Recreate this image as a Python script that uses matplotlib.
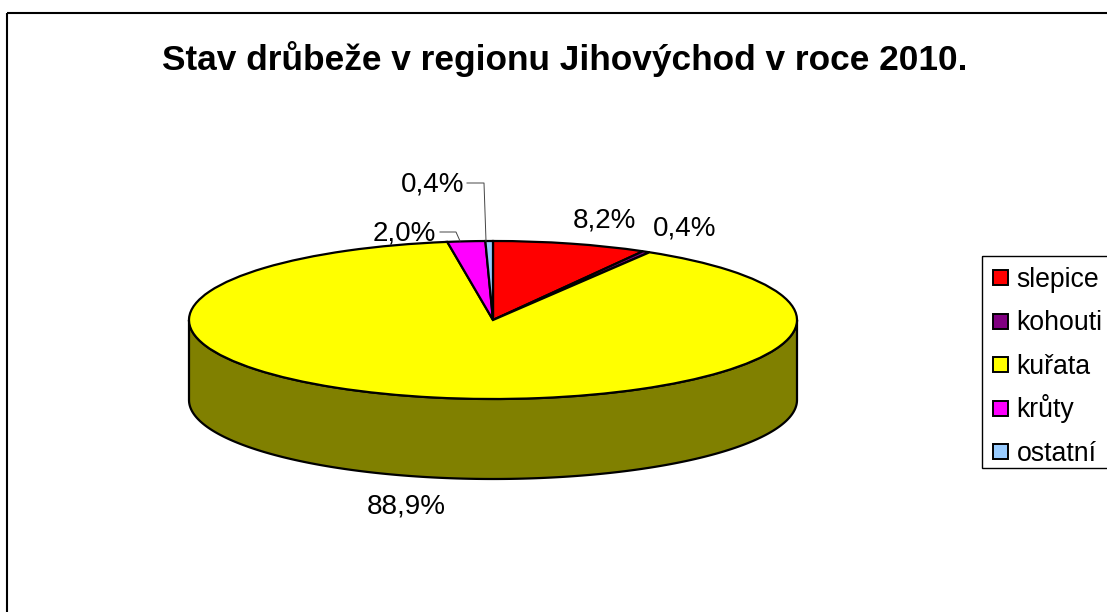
import numpy as np
import matplotlib
matplotlib.use("Agg")
import matplotlib.pyplot as plt
from matplotlib.patches import Rectangle
from matplotlib.legend_handler import HandlerPatch

plt.rcParams['font.family'] = ['Liberation Sans', 'DejaVu Sans']

title = "Stav drůbeže v regionu Jihovýchod v roce 2010."
categories = ["slepice", "kohouti", "kuřata", "krůty", "ostatní"]
values = [8.2, 0.4, 88.9, 2.0, 0.4]
colors = ["#FF0000", "#800080", "#FFFF00", "#FF00FF", "#99CCFF"]
side_color = "#808000"

W, H = 1107, 612
dpi = 100
fig = plt.figure(figsize=(W / dpi, H / dpi), dpi=dpi, facecolor="white")

# overlay in pixel coordinates for frame, labels and leader lines
ov = fig.add_axes([0, 0, 1, 1], zorder=3)
ov.set_xlim(0, W); ov.set_ylim(H, 0); ov.axis("off")
ov.patch.set_alpha(0)

# pie axes: top ellipse centre (493,320), radii 304 x 79, depth 80 px
cx, cy, rx, ry, depth = 493, 320, 304, 79, 80
lim = 1.25
ylo, yhi = -lim - depth / ry, lim
axw = 2 * lim * rx
axh = (yhi - ylo) * ry
ax = fig.add_axes([(cx - lim * rx) / W, 1 - (cy + lim * ry + 0) / H - (depth / H),
                   axw / W, axh / H], zorder=1)

edge = dict(edgecolor="black", linewidth=1.6)
d = depth / ry
t = np.linspace(np.pi, 2 * np.pi, 300)
xs = np.cos(t)
ax.fill(np.r_[xs, xs[::-1]], np.r_[np.sin(t), np.sin(t)[::-1] - d],
        facecolor=side_color, edgecolor="black", linewidth=1.6, zorder=0)
wedges, _ = ax.pie(values, colors=colors, startangle=90, counterclock=False,
                   radius=1, wedgeprops=edge)
ax.set_aspect("auto")
ax.set_xlim(-lim, lim)
ax.set_ylim(ylo, yhi)
ax.axis("off")

# frame (right and bottom sides run off the picture)
ov.add_patch(Rectangle((7, 13), W + 20, H + 20, fill=False, edgecolor="black", linewidth=1.5))

ov.text(564.5, 59, title, fontsize=25.4, fontweight="bold", ha="center", va="center", color="black")

label_pos = [(604, 220.5), (685, 228.5), (406, 506.5), (404, 233.5), (433, 184.5)]
for v, (x, y) in zip(values, label_pos):
    ov.text(x, y, f"{v:.1f}%".replace(".", ","), fontsize=20, ha="center", va="center", color="black")

ov.plot([440, 456, 460], [232, 232, 241], color="#444444", lw=0.7)
ov.plot([467, 484, 486], [183, 183, 241], color="#444444", lw=0.7)

# legend box (its right side runs off the picture)
ov.add_patch(Rectangle((982, 256), 140, 212, fill=False, edgecolor="black", linewidth=1.0))


class SwatchHandler(HandlerPatch):
    """Small square swatch inside a taller handle box, so that all rows are equally high."""

    def create_artists(self, legend, orig_handle, xdescent, ydescent, width, height, fontsize, trans):
        s = 0.57 * fontsize
        p = Rectangle((width - s - xdescent, (height - s) / 2 - ydescent), s, s,
                      facecolor=orig_handle.get_facecolor(), edgecolor="black",
                      linewidth=1.4, transform=trans)
        return [p]


leg = fig.legend(wedges, categories, loc="upper left",
                 bbox_to_anchor=(981 / W, 1 - 258 / H), bbox_transform=fig.transFigure,
                 borderaxespad=0, fontsize=19.2, frameon=False, borderpad=0.24,
                 labelspacing=0.56, handlelength=0.77, handleheight=1.17, handletextpad=0.33,
                 handler_map={type(wedges[0]): SwatchHandler()})
leg.set_zorder(4)

fig.savefig("out.png", dpi=dpi)
